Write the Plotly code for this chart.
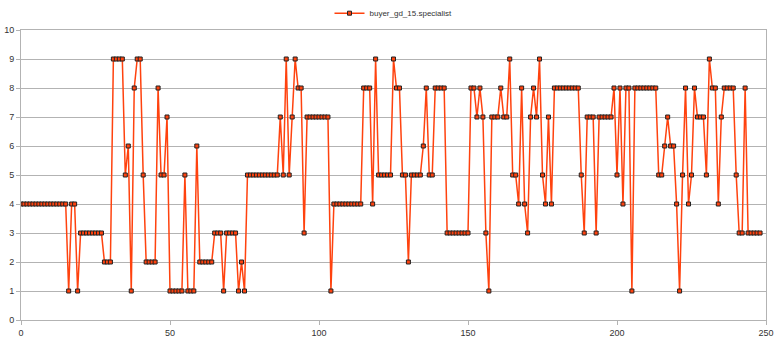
import plotly.graph_objects as go

series_name = "buyer_gd_15.specialist"
values = (
    [4]*16 + [1] + [4, 4] + [1] + [3]*8 + [2]*3 + [9]*4 + [5, 6, 1, 8, 9, 9, 5] + [2]*4
    + [8, 5, 5, 7] + [1]*5 + [5] + [1]*3 + [6] + [2]*5 + [3]*3 + [1] + [3]*4 + [1, 2, 1]
    + [5]*11 + [7, 5, 9, 5, 7, 9, 8, 8, 3] + [7]*8 + [1] + [4]*10 + [8]*3 + [4, 9] + [5]*5
    + [9, 8, 8, 5, 5, 2] + [5]*4 + [6, 8, 5, 5] + [8]*4 + [3]*8
    + [8, 8, 7, 8, 7, 3, 1] + [7]*3 + [8, 7, 7, 9, 5, 5, 4, 8, 4, 3, 7, 8, 7, 9, 5, 4, 7, 4]
    + [8]*9 + [5, 3] + [7]*3 + [3] + [7]*5 + [8, 5, 8, 4, 8, 8, 1] + [8]*8
    + [5, 5, 6, 7, 6, 6, 4, 1, 5, 8, 4, 5, 8] + [7]*3 + [5, 9, 8, 8, 4, 7] + [8]*4
    + [5, 3, 3, 8] + [3]*5
)
x_vals = list(range(len(values)))
x_ticks = [0, 50, 100, 150, 200, 250]
y_ticks = list(range(0, 11))

fig = go.Figure()
fig.add_trace(go.Scatter(
    x=x_vals, y=values, mode="lines+markers", name=series_name,
    line=dict(color="#ff420e", width=1.5),
    marker=dict(symbol="square", size=4, color="#ff420e",
                line=dict(color="#222222", width=1)),
))
fig.update_layout(
    width=774, height=337,
    margin=dict(l=21, r=8, t=30, b=17, autoexpand=False),
    paper_bgcolor="white", plot_bgcolor="white",
    font=dict(family="Liberation Sans, Arial, sans-serif", size=9, color="#333333"),
    showlegend=True,
    legend=dict(orientation="h", x=0.5, xanchor="center", y=1.058, yanchor="middle",
                font=dict(size=8, color="#333333"),
                bgcolor="rgba(0,0,0,0)", itemwidth=30),
)
fig.update_xaxes(range=[0, 250], tickvals=x_ticks, showgrid=False, zeroline=False,
                 showline=True, linecolor="#b3b3b3", linewidth=1, mirror=True,
                 ticks="outside", ticklen=4, tickcolor="#b3b3b3", automargin=False,
                 tickfont=dict(size=9, color="#333333"))
fig.update_yaxes(range=[0, 10], tickvals=y_ticks, showgrid=True, gridcolor="#b3b3b3",
                 gridwidth=1, zeroline=False, showline=True, linecolor="#b3b3b3",
                 linewidth=1, mirror=True, ticks="outside", ticklen=4, tickcolor="#b3b3b3",
                 automargin=False, tickfont=dict(size=9, color="#333333"))
fig.write_html("out.html", config={"displayModeBar": False},
               post_script="document.body.style.margin='0';document.body.style.overflow='hidden';")
